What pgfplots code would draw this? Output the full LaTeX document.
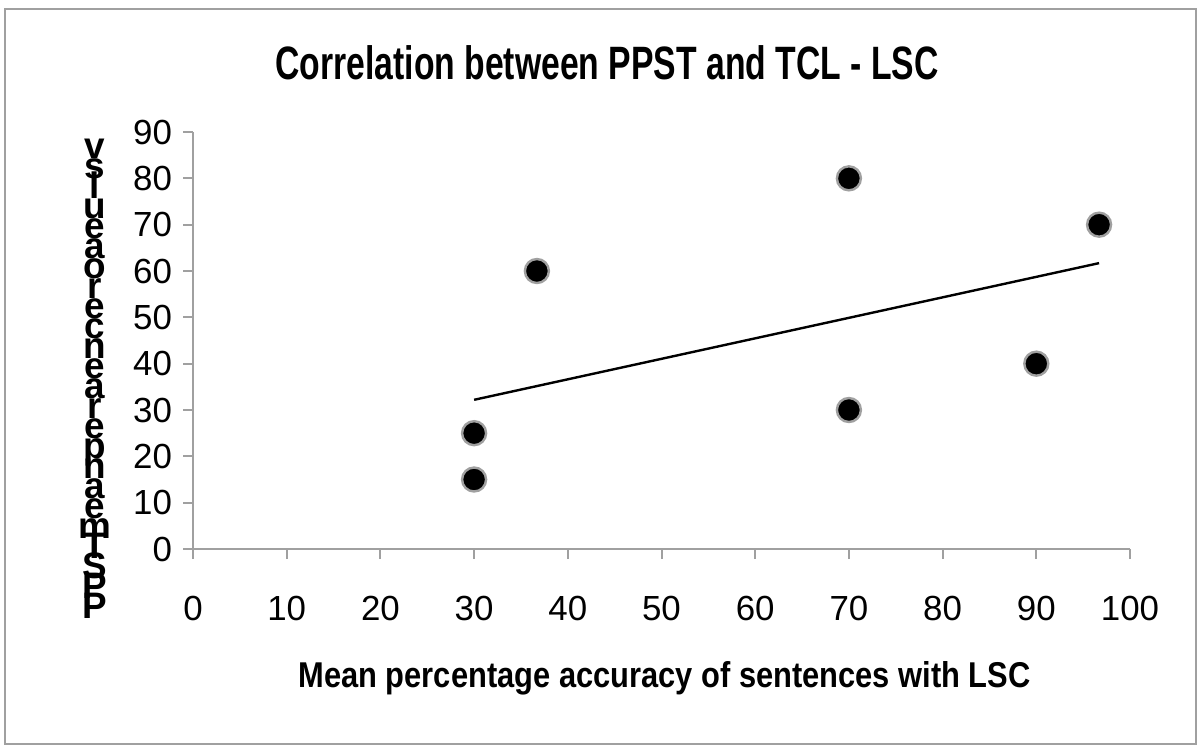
\documentclass[border=0pt]{standalone}
\usepackage{fontspec}
\setmainfont{Liberation Sans}
\newfontfamily\titlefont[FakeStretch=0.72]{Liberation Sans}
\newfontfamily\labelfont[FakeStretch=0.86]{Liberation Sans}
\usepackage{pgfplots}
\pgfplotsset{compat=1.18}
\definecolor{axgray}{HTML}{A0A0A0}
\begin{document}
\begin{tikzpicture}
\path (-96.5bp,-99.5bp) rectangle (503.5bp,274.5bp);
\begin{axis}[
  scale only axis, width=468.5bp, height=208.5bp,
  at={(0,0)}, anchor=origin,
  xmin=0, xmax=100, ymin=0, ymax=90,
  xtick={0,10,...,100}, ytick={0,10,...,90},
  axis x line*=bottom, axis y line*=left,
  axis line style={-, axgray, line width=1bp},
  tick style={axgray, line width=1bp},
  tick align=outside, major tick length=5bp,
  ticklabel style={font=\fontsize{17.5}{20}\selectfont},
  /pgf/number format/assume math mode=true,
  xticklabel style={yshift=-15bp},
  yticklabel style={xshift=-2bp},
  clip=false,
]
\addplot[black, line width=1.2bp] coordinates {(30,32.2) (96.7,61.7)};
\addplot[only marks, mark=*, mark size=6bp,
  mark options={fill=black, draw=axgray, line width=1.2bp}]
  coordinates {(30,15) (30,25) (36.7,60) (70,80) (70,30) (90,40) (96.7,70)};
\end{axis}
\draw[axgray, line width=1bp] (-94bp,-97.5bp) rectangle (501.5bp,270bp);
\node[font=\titlefont\bfseries\fontsize{23.5}{26}\selectfont] at (207bp,243bp) {Correlation between PPST and TCL - LSC};
\node[font=\labelfont\bfseries\fontsize{18}{20}\selectfont] at (235.75bp,-64.5bp) {Mean percentage accuracy of sentences with LSC};
\node[font={\bfseries\fontsize{18.5}{10bp}\selectfont\lineskiplimit=-\maxdimen}, align=center, inner sep=0pt, anchor=north] at (-49bp,205bp)
 {v\\s\\l\\u\\e\\a\\o\\r\\e\\c\\n\\e\\a\\r\\e\\p\\n\\a\\e\\m\\T\\S\\P\\P};
\end{tikzpicture}
\end{document}
